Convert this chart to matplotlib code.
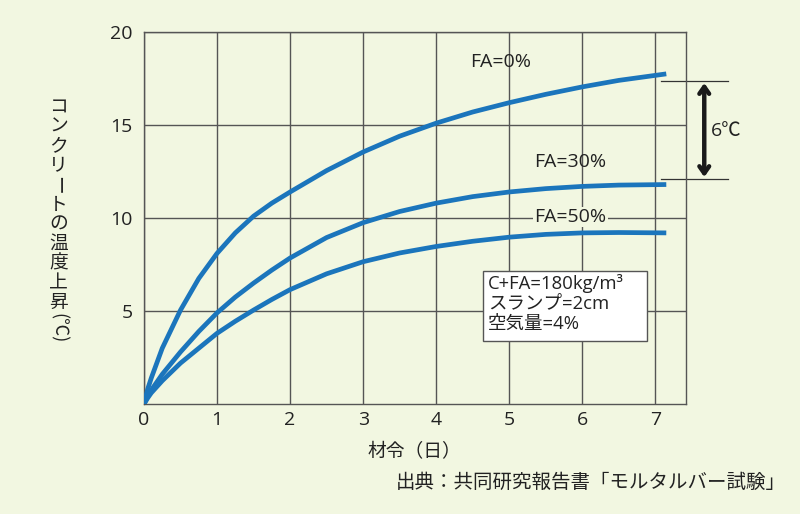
import matplotlib
matplotlib.use("Agg")
import matplotlib.pyplot as plt
from matplotlib.patches import Rectangle

plt.rcParams['font.family'] = ['Open Sans', 'Noto Sans CJK JP', 'DejaVu Sans']

# data
days = [0, 0.05, 0.1, 0.25, 0.5, 0.75, 1, 1.25, 1.5, 1.75, 2, 2.5, 3, 3.5, 4, 4.5, 5, 5.5, 6, 6.5, 7.15]
fa0 = [0, 0.8, 1.4, 3.0, 5.05, 6.75, 8.1, 9.2, 10.1, 10.8, 11.4, 12.55, 13.55, 14.4, 15.1, 15.7,
       16.2, 16.65, 17.05, 17.4, 17.75]
fa30 = [0, 0.4, 0.75, 1.6, 2.8, 3.9, 4.9, 5.75, 6.5, 7.2, 7.85, 8.95, 9.75, 10.35, 10.8, 11.15,
        11.4, 11.58, 11.7, 11.77, 11.8]
fa50 = [0, 0.32, 0.6, 1.25, 2.2, 3.0, 3.8, 4.45, 5.05, 5.62, 6.15, 7.0, 7.65, 8.12, 8.47, 8.75,
        8.97, 9.12, 9.2, 9.22, 9.2]
series_labels = ['FA=0%', 'FA=30%', 'FA=50%']
xticks = [0, 1, 2, 3, 4, 5, 6, 7]
yticks = [5, 10, 15, 20]
cond_lines = ['C+FA=180kg/m³', 'スランプ=2cm', '空気量=4%']

bg = '#f2f7e1'
blue = '#1b75bc'
gridc = '#555555'
txt = '#222222'

fig = plt.figure(figsize=(8, 5.14), dpi=100, facecolor=bg)
ax = fig.add_axes([0.18, 0.214, 0.6775, 0.7237])
ax.set_facecolor(bg)

for ys in (fa0, fa30, fa50):
    ax.plot(days, ys, color=blue, lw=3.4, solid_capstyle='butt', solid_joinstyle='round', zorder=3)

ax.set_xlim(0, 7.42)
ax.set_ylim(0, 20)
ax.set_xticks(xticks)
ax.set_yticks(yticks)
ax.tick_params(length=0, labelsize=14, colors=txt)
ax.tick_params(axis='y', pad=8)
ax.tick_params(axis='x', pad=5)
ax.grid(True, color=gridc, lw=1)
for s in ax.spines.values():
    s.set_color(gridc)
    s.set_linewidth(1)

# curve labels
ax.text(4.88, 18.4, series_labels[0], ha='center', va='center', fontsize=14, color=txt)
ax.text(5.84, 13.0, series_labels[1], ha='center', va='center', fontsize=14, color=txt)
ax.text(5.84, 10.05, series_labels[2], ha='center', va='center', fontsize=14, color=txt,
        bbox=dict(fc=bg, ec='none', pad=1))

# condition box
ax.add_patch(Rectangle((4.64, 3.39), 2.24, 3.76, fc='white', ec='#555555', lw=1, zorder=4))
for yy, line in zip([6.5, 5.43, 4.32], cond_lines):
    ax.text(4.71, yy, line, ha='left', va='center', fontsize=13.3, color=txt, zorder=5)

# 6 degC difference marker
ax.plot([7.08, 8.0], [17.37, 17.37], color='#333333', lw=0.9, clip_on=False)
ax.plot([7.08, 8.0], [12.1, 12.1], color='#333333', lw=0.9, clip_on=False)
ax.annotate('', xy=(7.67, 17.26), xytext=(7.67, 12.2),
            arrowprops=dict(arrowstyle='<->,head_width=0.35,head_length=0.5', lw=3.2,
                            color='#1a1a1a', shrinkA=0, shrinkB=0),
            annotation_clip=False)
ax.text(7.76, 14.7, '6℃', ha='left', va='center', fontsize=14, color=txt, clip_on=False)

# y label, vertical upright characters
ylab = 'コンクリートの温度上昇'
y0 = 0.792
step = 0.038
for i, ch in enumerate(ylab):
    rot = -90 if ch == 'ー' else 0
    fig.text(0.073, y0 - i * step, ch, ha='center', va='center', fontsize=13.5,
             rotation=rot, color=txt, family='Noto Sans CJK JP')
fig.text(0.073, y0 - len(ylab) * step - 0.012, '(℃)', ha='center', va='center', fontsize=13,
         rotation=270, color=txt, family='Noto Sans CJK JP')

fig.text(0.518, 0.121, '材令（日）', ha='center', va='center', fontsize=13.5, color=txt,
         family='Noto Sans CJK JP')
fig.text(0.982, 0.062, '出典：共同研究報告書「モルタルバー試験」', ha='right', va='center',
         fontsize=14, color=txt, family='Noto Sans CJK JP')

fig.savefig('out.png', dpi=100, facecolor=bg)
